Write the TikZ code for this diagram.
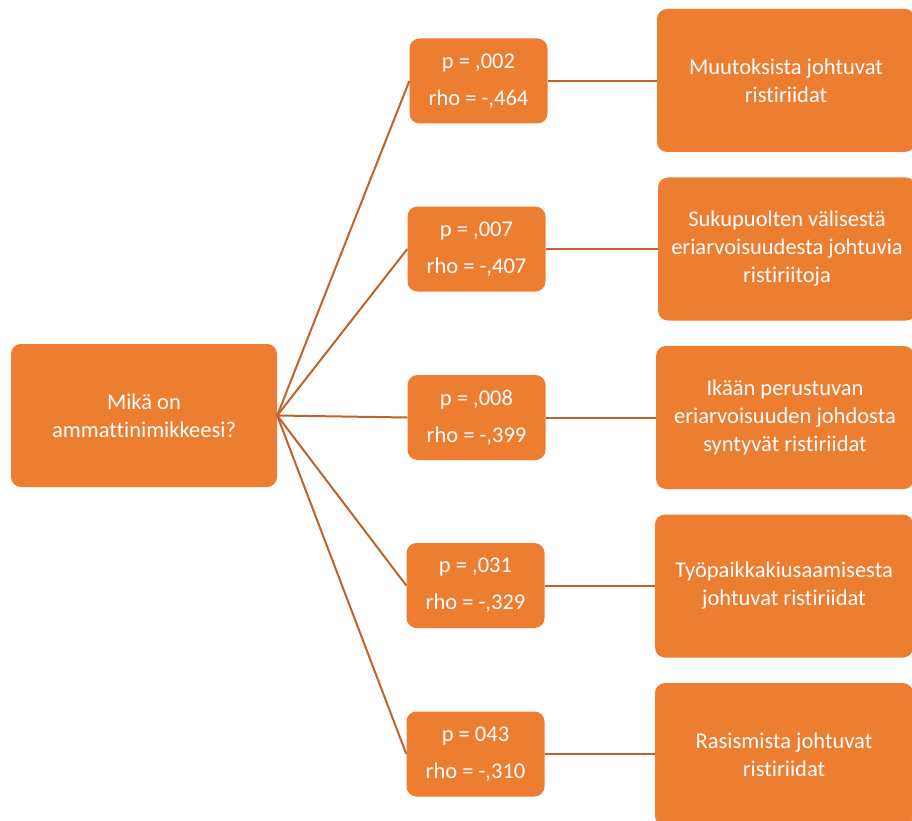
\documentclass[tikz,border=0pt]{standalone}
\usepackage{fontspec}
\setmainfont[Ligatures=NoCommon]{Carlito}
\usepackage{tikz}

\definecolor{boxorange}{HTML}{ED7D31}
\definecolor{linkbrown}{HTML}{C0622B}

\tikzset{
	box/.style={fill=boxorange, rounded corners=10pt, text=white, align=center,
		inner sep=0pt, font=\fontsize{22.5}{28}\selectfont},
	rootbox/.style={box, minimum width=266pt, minimum height=143pt},
	statbox/.style={box, minimum width=138pt, minimum height=85pt,
		font=\fontsize{22.5}{37}\selectfont},
	topicbox/.style={box, minimum width=258pt, minimum height=143pt},
	link/.style={draw=linkbrown, line width=2pt}
}

\begin{document}
\begin{tikzpicture}[x=1pt,y=-1pt]
	\clip (0,0) rectangle (912,821);
	\fill[white] (0,0) rectangle (912,821);
	% question
	\node[rootbox] (root) at (144,415.5) {Mikä on\\ammattinimikkeesi?};
	% correlations
	\node[statbox] (p1) at (478.5,81) {p = ,002\\rho = -,464};
	\node[statbox] (p2) at (476.5,249) {p = ,007\\rho = -,407};
	\node[statbox] (p3) at (476.5,417.5) {p = ,008\\rho = -,399};
	\node[statbox] (p4) at (475.5,585.5) {p = ,031\\rho = -,329};
	\node[statbox] (p5) at (475.5,754) {p = 043\\rho = -,310};
	% conflict types
	\node[topicbox] (t1) at (786,80.5) {Muutoksista johtuvat\\ristiriidat};
	\node[topicbox] (t2) at (787,249) {Sukupuolten välisestä\\eriarvoisuudesta johtuvia\\ristiriitoja};
	\node[topicbox] (t3) at (785,417.5) {Ikään perustuvan\\eriarvoisuuden johdosta\\syntyvät ristiriidat};
	\node[topicbox] (t4) at (784,586) {Työpaikkakiusaamisesta\\johtuvat ristiriidat};
	\node[topicbox] (t5) at (784,754.5) {Rasismista johtuvat\\ristiriidat};
	% links
	\draw[link] (root.east) -- (p1.west);
	\draw[link] (root.east) -- (p2.west);
	\draw[link] (root.east) -- (p3.west);
	\draw[link] (root.east) -- (p4.west);
	\draw[link] (root.east) -- (p5.west);
	\draw[link] (p1.east) -- (t1.west |- p1.east);
	\draw[link] (p2.east) -- (t2.west |- p2.east);
	\draw[link] (p3.east) -- (t3.west |- p3.east);
	\draw[link] (p4.east) -- (t4.west |- p4.east);
	\draw[link] (p5.east) -- (t5.west |- p5.east);
\end{tikzpicture}
\end{document}
